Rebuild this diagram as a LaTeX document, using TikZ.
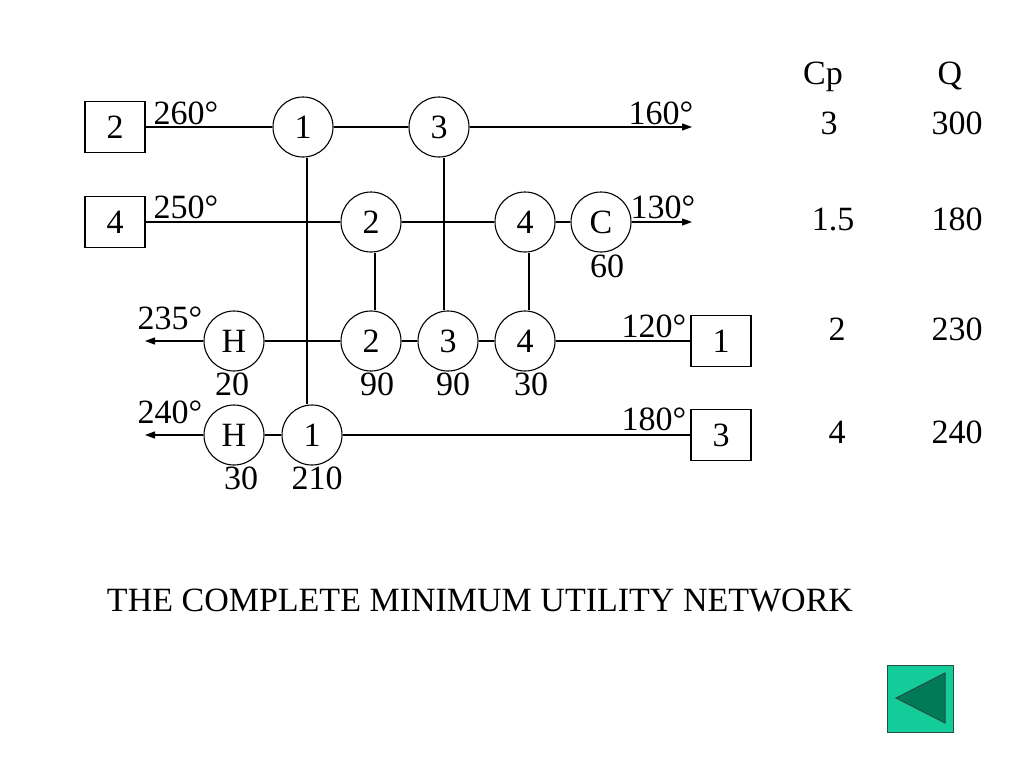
\documentclass[tikz,border=0pt]{standalone}
\usepackage{fontspec}
\setmainfont{Liberation Serif}
\usetikzlibrary{arrows.meta}
\definecolor{mint}{RGB}{20,204,153}
\definecolor{darkmint}{RGB}{0,122,88}
\definecolor{edgegreen}{RGB}{40,80,65}
\begin{document}
\begin{tikzpicture}[x=1pt,y=-1pt,
  ex/.style={draw,circle,minimum size=60pt,inner sep=0pt,line width=1.1pt,font=\fontsize{34}{39}\selectfont},
  sbox/.style={draw,rectangle,minimum width=60pt,minimum height=51pt,inner sep=0pt,line width=1.1pt,font=\fontsize{34}{39}\selectfont},
  lbl/.style={anchor=base,inner sep=0pt,font=\fontsize{34}{39}\selectfont},
  ln/.style={line width=1.1pt},
  arr/.style={ln,-{Triangle[length=10pt,width=7pt]}}
]
\useasboundingbox (0,0) rectangle (1024,768);
% row 1
\node[sbox] (s2) at (115,127) {2};
\node[ex] (a1) at (303,127) {1};
\node[ex] (a3) at (439,127) {3};
\coordinate (e1) at (692,127);
\draw[ln] (s2) -- (a1);
\draw[ln] (a1) -- (a3);
\draw[arr] (a3) -- (e1);
% row 2
\node[sbox] (s4) at (115,222) {4};
\node[ex] (b2) at (371,222) {2};
\node[ex] (b4) at (525,222) {4};
\node[ex] (bc) at (601,222) {C};
\coordinate (e2) at (692,222);
\draw[ln] (s4) -- (b2);
\draw[ln] (b2) -- (b4);
\draw[ln] (b4) -- (bc);
\draw[arr] (bc) -- (e2);
% row 3
\node[ex] (ch) at (234,341) {H};
\node[ex] (c2) at (371,341) {2};
\node[ex] (c3) at (448,341) {3};
\node[ex] (c4) at (525,341) {4};
\node[sbox] (s1) at (721,341) {1};
\coordinate (e3) at (145,341);
\draw[ln] (s1) -- (c4);
\draw[ln] (c4) -- (c3);
\draw[ln] (c3) -- (c2);
\draw[ln] (c2) -- (ch);
\draw[arr] (ch) -- (e3);
% row 4
\node[ex] (dh) at (234,435) {H};
\node[ex] (d1) at (312,435) {1};
\node[sbox] (s3) at (721,435) {3};
\coordinate (e4) at (145,435);
\draw[ln] (s3) -- (d1);
\draw[ln] (d1) -- (dh);
\draw[arr] (dh) -- (e4);
% verticals
\coordinate (v1) at (307,0);
\coordinate (v2) at (375,0);
\coordinate (v3) at (444,0);
\coordinate (v4) at (529,0);
\draw[ln] (a1.south -| v1) -- (d1.north -| v1);
\draw[ln] (b2.south -| v2) -- (c2.north -| v2);
\draw[ln] (a3.south -| v3) -- (c3.north -| v3);
\draw[ln] (b4.south -| v4) -- (c4.north -| v4);
% temperature and duty labels
\node[lbl] (t1) at (186,124) {260°};
\node[lbl] (t2) at (661,124) {160°};
\node[lbl] (t3) at (186,218) {250°};
\node[lbl] (t4) at (663,218) {130°};
\node[lbl] (q1) at (607,277) {60};
\node[lbl] (t5) at (170,329) {235°};
\node[lbl] (q2) at (232,395) {20};
\node[lbl] (q3) at (377,395) {90};
\node[lbl] (q4) at (453,395) {90};
\node[lbl] (q5) at (531,395) {30};
\node[lbl] (t6) at (654,337) {120°};
\node[lbl] (t7) at (170,423) {240°};
\node[lbl] (t8) at (654,430) {180°};
\node[lbl] (q6) at (241,489) {30};
\node[lbl] (q7) at (317,489) {210};
% table
\node[lbl] (h1) at (823,84) {Cp};
\node[lbl] (h2) at (950,84) {Q};
\node[lbl] (r1a) at (829,134) {3};
\node[lbl] (r1b) at (957,134) {300};
\node[lbl] (r2a) at (833,230) {1.5};
\node[lbl] (r2b) at (957,230) {180};
\node[lbl] (r3a) at (837,340) {2};
\node[lbl] (r3b) at (957,340) {230};
\node[lbl] (r4a) at (837,443) {4};
\node[lbl] (r4b) at (957,443) {240};
% title
\node[lbl] (title) at (480,611) {THE COMPLETE MINIMUM UTILITY NETWORK};
% back button
\filldraw[fill=mint,draw=edgegreen,line width=1pt] (887,665) rectangle (953,732);
\filldraw[fill=darkmint,draw=edgegreen,line width=1pt] (896,698) -- (945,673) -- (945,723) -- cycle;
\end{tikzpicture}
\end{document}
